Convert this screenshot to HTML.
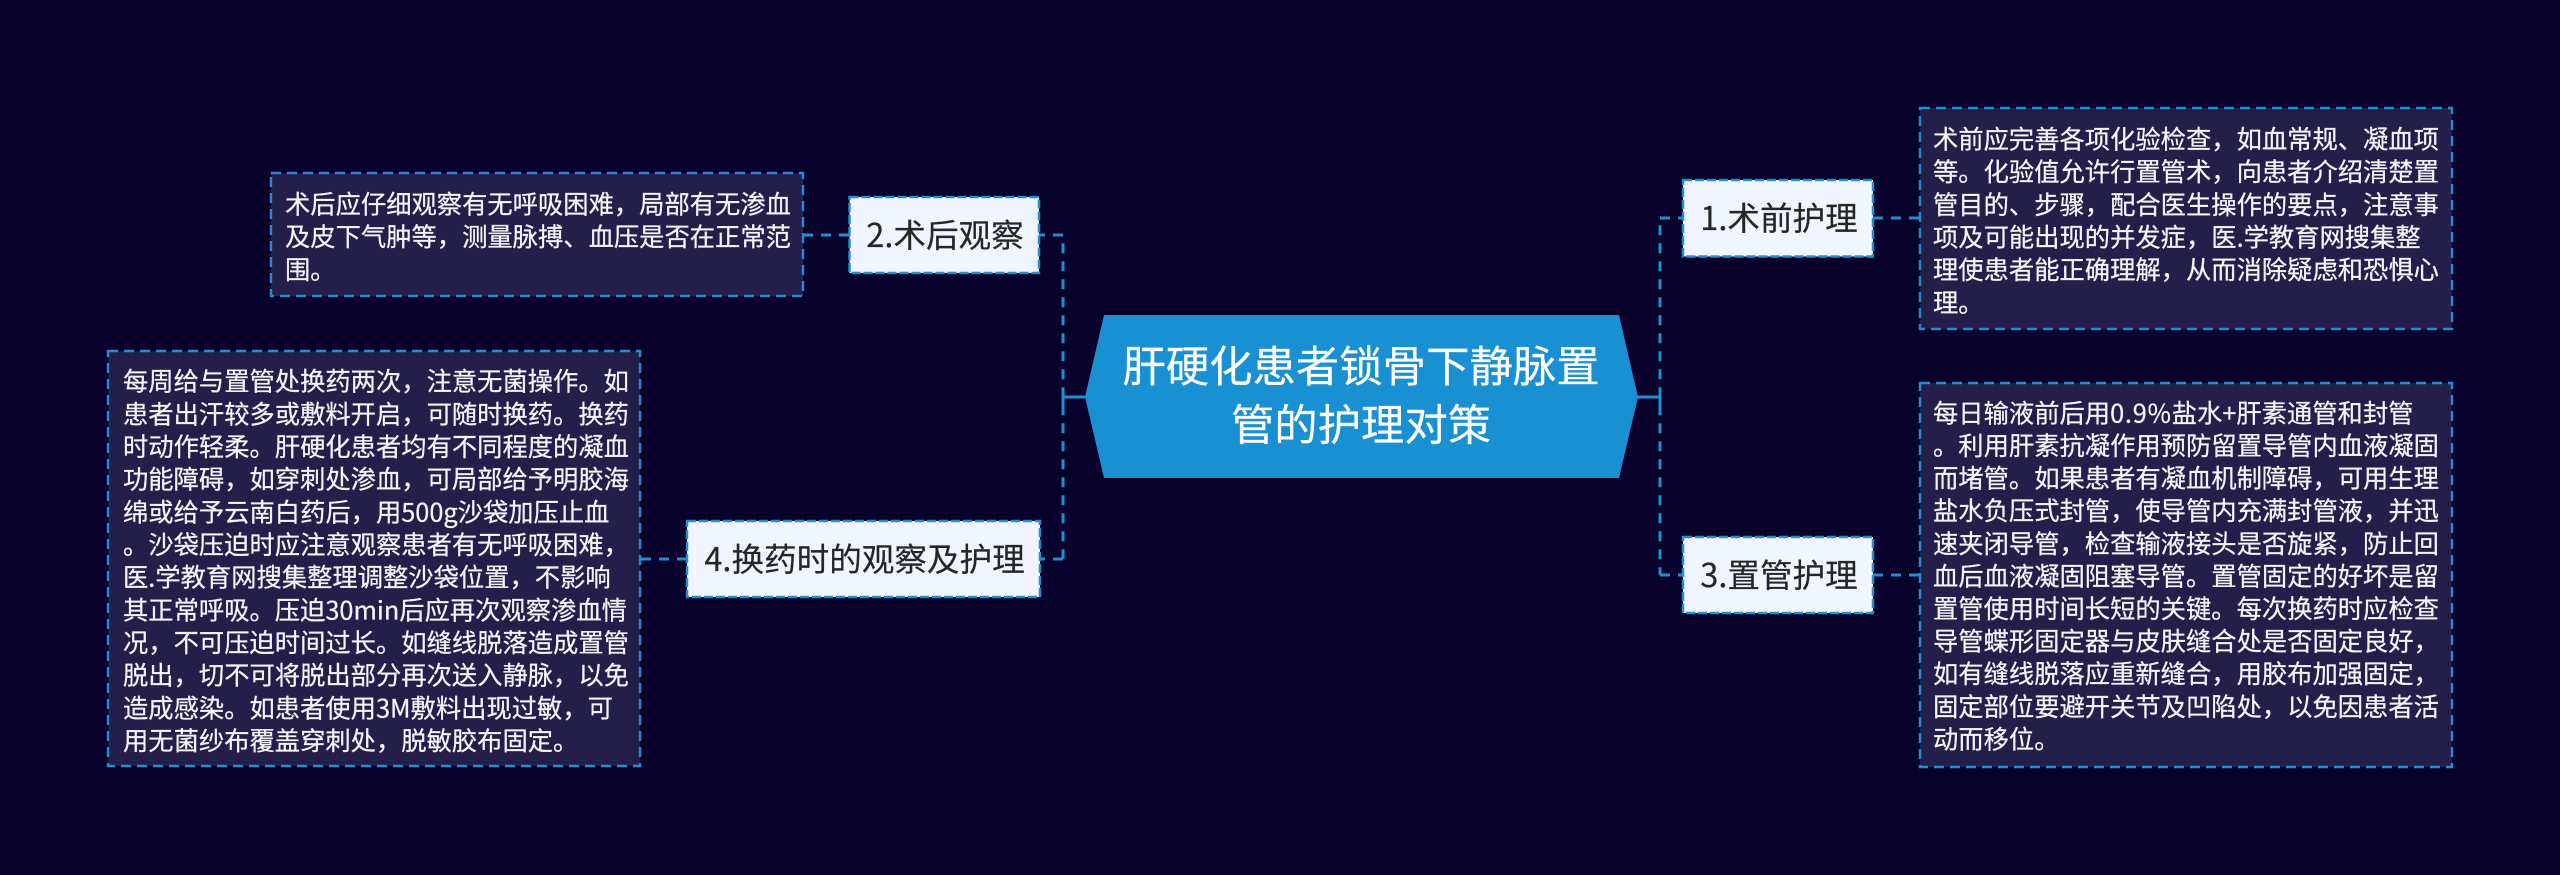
<!DOCTYPE html>
<html lang="zh">
<head>
<meta charset="utf-8">
<style>
html,body{margin:0;padding:0;background:#07012b;width:2560px;height:875px;overflow:hidden}
svg{display:block}
.leaf{fill:#f4f4f8;stroke:#f4f4f8;stroke-width:.25px;font-size:25.3px;font-family:"Liberation Sans","Noto Sans CJK SC",sans-serif}
.leaf text{font-family:"Noto Sans CJK SC","WenQuanYi Zen Hei",sans-serif}
.node{fill:#262626;stroke:#262626;stroke-width:.2px;font-size:32.6px;font-family:"Noto Sans CJK SC","WenQuanYi Zen Hei",sans-serif}
.root{fill:#fff;stroke:#fff;stroke-width:.2px;font-size:43.4px;font-family:"Noto Sans CJK SC","WenQuanYi Zen Hei",sans-serif}
</style>
</head>
<body>
<svg width="2560" height="875" viewBox="0 0 2560 875" xmlns="http://www.w3.org/2000/svg">
<rect width="2560" height="875" fill="#07012b"/>
<g fill="none" stroke="#1f8fd0" stroke-width="3" stroke-dasharray="10 8">
<path d="M1660 218V575" stroke-dashoffset="10.7"/>
<path d="M1063 235V559" stroke-dashoffset="9.7"/>
<path d="M1660 218H1683"/>
<path d="M1873 218H1920"/>
<path d="M1660 575H1683"/>
<path d="M1873 575H1920"/>
<path d="M1063 235H1039"/>
<path d="M849 235H803"/>
<path d="M1063 559H1040"/>
<path d="M687 559H640"/>
</g>
<g fill="none" stroke="#1f8fd0" stroke-width="3">
<path d="M1637 397H1660M1660 388V406"/>
<path d="M1085 397H1063M1063 388V406"/>
</g>
<polygon points="1104,315 1619,315 1638,397 1619,478 1104,478 1085,397" fill="#1890d2"/>
<text class="root" text-anchor="middle" x="1361" y="382">肝硬化患者锁骨下静脉置</text>
<text class="root" text-anchor="middle" x="1361" y="440.5">管的护理对策</text>

<g fill="#f0f5ff" stroke="#1f8fd0" stroke-width="2.5" stroke-dasharray="9 3">
<rect x="1683" y="180" width="190" height="76.5"/>
<rect x="1683" y="537" width="190" height="76"/>
<rect x="849.5" y="197" width="189.5" height="76"/>
<rect x="687" y="521" width="353" height="76"/>
</g>
<text class="node" x="1779" y="230" text-anchor="middle">1.术前护理</text>
<text class="node" x="1779" y="587" text-anchor="middle">3.置管护理</text>
<text class="node" x="945" y="247" text-anchor="middle">2.术后观察</text>
<text class="node" x="864.5" y="571" text-anchor="middle">4.换药时的观察及护理</text>

<g fill="#231f4a" stroke="#1f8fd0" stroke-width="2.4" stroke-dasharray="10 6">
<rect x="1920" y="108" width="532" height="221"/>
<rect x="1920" y="383" width="532" height="384"/>
<rect x="271" y="173" width="532" height="123"/>
<rect x="108" y="351" width="532" height="415"/>
</g>

<g class="leaf">
<text x="1933" y="148.5">术前应完善各项化验检查，如血常规、凝血项</text>
<text x="1933" y="181.2">等。化验值允许行置管术，向患者介绍清楚置</text>
<text x="1933" y="213.8">管目的、步骤，配合医生操作的要点，注意事</text>
<text x="1933" y="246.5">项及可能出现的并发症，医.学教育网搜集整</text>
<text x="1933" y="279.2">理使患者能正确理解，从而消除疑虑和恐惧心</text>
<text x="1933" y="311.8">理。</text>

<text x="1933" y="422.3">每日输液前后用<tspan letter-spacing=".8">0.9%</tspan>盐水+肝素通管和封管</text>
<text x="1933" y="455">。利用肝素抗凝作用预防留置导管内血液凝固</text>
<text x="1933" y="487.6">而堵管。如果患者有凝血机制障碍，可用生理</text>
<text x="1933" y="520.2">盐水负压式封管，使导管内充满封管液，并迅</text>
<text x="1933" y="552.8">速夹闭导管，检查输液接头是否旋紧，防止回</text>
<text x="1933" y="585.4">血后血液凝固阻塞导管。置管固定的好坏是留</text>
<text x="1933" y="618">置管使用时间长短的关键。每次换药时应检查</text>
<text x="1933" y="650.6">导管蝶形固定器与皮肤缝合处是否固定良好，</text>
<text x="1933" y="683.2">如有缝线脱落应重新缝合，用胶布加强固定，</text>
<text x="1933" y="715.8">固定部位要避开关节及凹陷处，以免因患者活</text>
<text x="1933" y="748.4">动而移位。</text>

<text x="285" y="213.5">术后应仔细观察有无呼吸困难，局部有无渗血</text>
<text x="285" y="246.2">及皮下气肿等，测量脉搏、血压是否在正常范</text>
<text x="285" y="278.9">围。</text>

<text x="123" y="390.7">每周给与置管处换药两次，注意无菌操作。如</text>
<text x="123" y="423.4">患者出汗较多或敷料开启，可随时换药。换药</text>
<text x="123" y="456">时动作轻柔。肝硬化患者均有不同程度的凝血</text>
<text x="123" y="488.7">功能障碍，如穿刺处渗血，可局部给予明胶海</text>
<text x="123" y="521.4">绵或给予云南白药后，用500g沙袋加压止血</text>
<text x="123" y="554">。沙袋压迫时应注意观察患者有无呼吸困难，</text>
<text x="123" y="586.7">医.学教育网搜集整理调整沙袋位置，不影响</text>
<text x="123" y="619.4">其正常呼吸。压迫30min后应再次观察渗血情</text>
<text x="123" y="652">况，不可压迫时间过长。如缝线脱落造成置管</text>
<text x="123" y="684.7">脱出，切不可将脱出部分再次送入静脉，以免</text>
<text x="123" y="717.4">造成感染。如患者使用3M敷料出现过敏，可</text>
<text x="123" y="750">用无菌纱布覆盖穿刺处，脱敏胶布固定。</text>
</g>
</svg>
</body>
</html>
